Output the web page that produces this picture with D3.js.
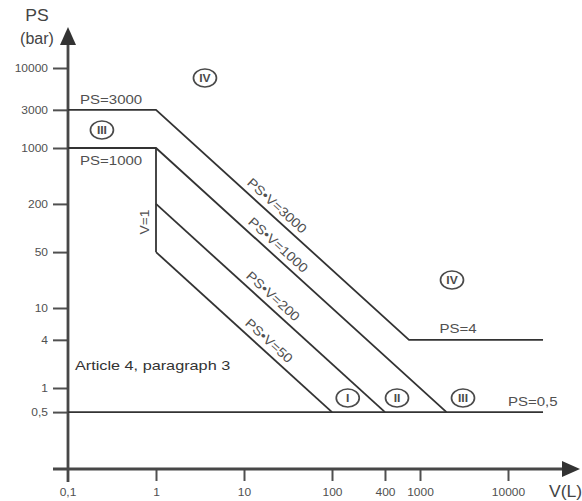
<!DOCTYPE html>
<html>
<head>
<meta charset="utf-8">
<script src="https://cdn.jsdelivr.net/npm/d3@7"></script>
<style>
  html, body { margin: 0; padding: 0; background: #fff; }
  svg { display: block; }
  text { font-family: "Liberation Sans", Arial, sans-serif; }
</style>
</head>
<body>
<div id="chart"></div>
<script>
// ---------- data ----------
const xTicks = [1, 10, 100, 400, 1000, 10000];
const xTickLabels = ["1", "10", "100", "400", "1000", "10000"];
const xOriginLabel = "0,1";
const yTicks = [10000, 3000, 1000, 200, 50, 10, 4, 1, 0.5];
const yTickLabels = ["10000", "3000", "1000", "200", "50", "10", "4", "1", "0,5"];

// boundary lines as [V (L), PS (bar)]
const linePS3000 = [[0.1, 3000], [1, 3000], [750, 4], [25000, 4]];
const linePS1000 = [[0.1, 1000], [1, 1000], [2000, 0.5]];
const lineV1 = [[1, 1000], [1, 50]];
const linePV200 = [[1, 200], [400, 0.5]];
const linePV50 = [[1, 50], [100, 0.5]];
const linePS05 = [[0.1, 0.5], [25000, 0.5]];

// category markers [label, V, PS]
const categoryMarks = [
  ["IV", 3.6, 7500],
  ["III", 0.243, 1680],
  ["IV", 2310, 22.4],
  ["I", 151, 0.75],
  ["II", 548, 0.75],
  ["III", 3080, 0.75]
];

// diagonal labels [text, line, V position]
const diagLabels = [
  ["PS\u2022V=3000", [[1, 3000], [750, 4]], 19.7],
  ["PS\u2022V=1000", [[1, 1000], [2000, 0.5]], 20.3],
  ["PS\u2022V=200", [[1, 200], [400, 0.5]], 17.8],
  ["PS\u2022V=50", [[1, 50], [100, 0.5]], 16]
];

// ---------- layout ----------
const W = 582, H = 501;
const SX = 1.25;
const ink = "#333", grey = "#505050";

const svg = d3.select("#chart").append("svg").attr("width", W).attr("height", H);
svg.append("rect").attr("width", W).attr("height", H).attr("fill", "#fff");

const x = d3.scaleLog().domain([0.1, 10000]).range([68, 508]);
const y = d3.scaleLog().domain([0.1, 10000]).range([468, 68]);

const line = d3.line().x(d => x(d[0])).y(d => y(d[1]));

function txt(px, py, s, size, anchor, fill, sx) {
  return svg.append("text")
    .attr("transform", `translate(${px},${py}) scale(${sx == null ? SX : sx},1)`)
    .attr("text-anchor", anchor || "start")
    .attr("font-size", size)
    .attr("fill", fill || grey)
    .text(s);
}

// ---------- axes ----------
const x0 = x(0.1), y0 = y(0.1);
const yAxis = d3.axisLeft(y).tickValues(yTicks).tickSize(15)
  .tickFormat((d, i) => yTickLabels[i]);
const gy = svg.append("g").attr("transform", `translate(${x0},0)`).call(yAxis);
gy.select(".domain").remove();
gy.selectAll(".tick line").attr("stroke", grey).attr("stroke-width", 2);
gy.selectAll(".tick text")
  .attr("font-size", 10).attr("fill", grey)
  .attr("font-family", "Liberation Sans, Arial, sans-serif")
  .attr("x", null)
  .attr("transform", "translate(-20,0) scale(1.2,1)");

const xAxis = d3.axisBottom(x).tickValues(xTicks).tickSize(12)
  .tickFormat((d, i) => xTickLabels[i]);
const gx = svg.append("g").attr("transform", `translate(0,${y0 + 1})`).call(xAxis);
gx.select(".domain").remove();
gx.selectAll(".tick line").attr("stroke", grey).attr("stroke-width", 2);
gx.selectAll(".tick text")
  .attr("font-size", 10).attr("fill", grey)
  .attr("font-family", "Liberation Sans, Arial, sans-serif")
  .attr("y", null).attr("dy", null)
  .attr("transform", "translate(0,27) scale(1.2,1)");
txt(x0, y0 + 28, xOriginLabel, 10, "middle", grey, 1.2);

// axis lines
svg.append("line").attr("x1", x0).attr("y1", y0 + 14).attr("x2", x0).attr("y2", 40)
  .attr("stroke", "#474747").attr("stroke-width", 2.8);
svg.append("line").attr("x1", x0 - 15).attr("y1", y0 + 1).attr("x2", 566).attr("y2", y0 + 1)
  .attr("stroke", "#474747").attr("stroke-width", 2.8);
svg.append("path").attr("d", `M${x0},27 L${x0 - 8},45 L${x0 + 8},45 Z`).attr("fill", "#333");
svg.append("path").attr("d", `M580,${y0 + 1} L562,${y0 - 7} L562,${y0 + 9} Z`).attr("fill", "#333");

// axis titles
txt(37, 21, "PS", 16, "middle", "#444", 1.1);
txt(37, 44, "(bar)", 16, "middle", "#444", 1.0);
txt(549, 497, "V(L)", 16, "start", "#444", 1.1);

// ---------- boundary lines ----------
[linePS3000, linePS1000, lineV1, linePV200, linePV50, linePS05].forEach(pts => {
  svg.append("path").attr("d", line(pts)).attr("fill", "none")
    .attr("stroke", ink).attr("stroke-width", 1.8).attr("stroke-linejoin", "miter");
});

// ---------- labels ----------
txt(x(0.137), y(3000) - 6, "PS=3000", 12, "start", grey);
txt(x(0.137), y(1000) + 17, "PS=1000", 12, "start", grey);
txt(x(2700), y(4) - 7, "PS=4", 12, "middle", grey);
txt(x(10000), y(0.5) - 6, "PS=0,5", 12, "start", grey);
txt(x(0.12), y(1.68), "Article 4, paragraph 3", 13, "start", "#333");

svg.append("text")
  .attr("transform", `translate(${x(1) - 7},${(y(200) + y(50)) / 2 - 6}) rotate(-90) scale(1.15,1)`)
  .attr("text-anchor", "middle").attr("font-size", 12).attr("fill", grey).text("V=1");

diagLabels.forEach(([s, seg, v]) => {
  const ang = Math.atan2(y(seg[1][1]) - y(seg[0][1]), x(seg[1][0]) - x(seg[0][0])) * 180 / Math.PI;
  const k = seg[0][0] * seg[0][1];
  svg.append("text")
    .attr("transform", `translate(${x(v)},${y(k / v)}) rotate(${ang}) scale(1.12,1)`)
    .attr("text-anchor", "middle").attr("dy", -6)
    .attr("font-size", 13).attr("fill", grey).text(s);
});

categoryMarks.forEach(([s, v, p]) => {
  const g = svg.append("g").attr("transform", `translate(${x(v)},${y(p)})`);
  g.append("ellipse").attr("rx", 11.5).attr("ry", 9).attr("fill", "none")
    .attr("stroke", "#4a4a4a").attr("stroke-width", 1.7);
  g.append("text").attr("text-anchor", "middle").attr("dy", 4)
    .attr("font-size", 11).attr("font-weight", "bold").attr("fill", "#4a4a4a")
    .attr("transform", "scale(1.1,1)").text(s);
});
</script>
</body>
</html>
